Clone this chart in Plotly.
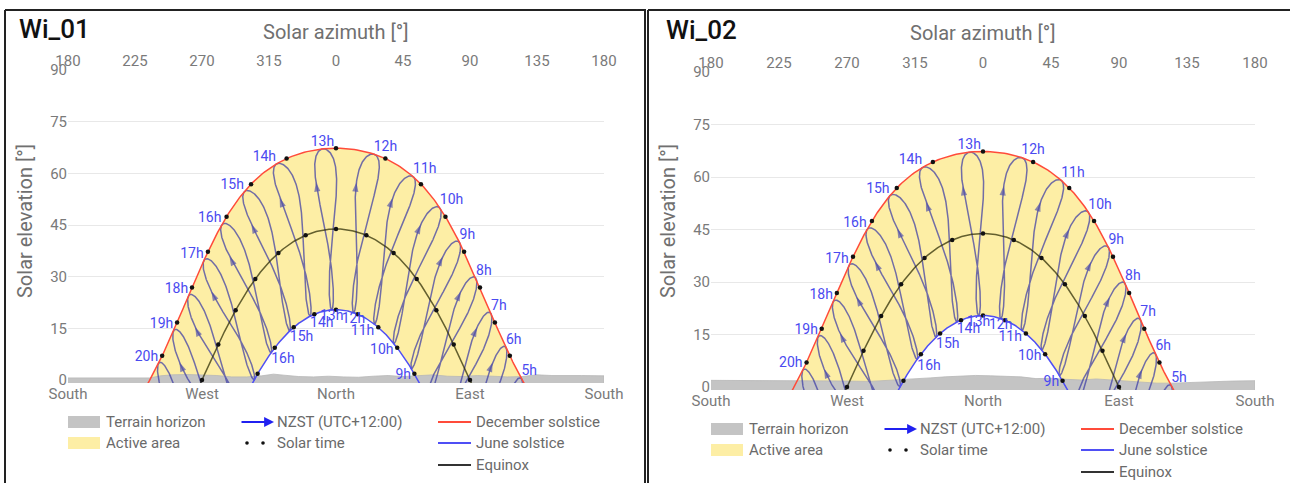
import numpy as np
import plotly.graph_objects as go

W, H = 1290, 483

# ---- site / time zone -------------------------------------------------------
SITE_LAT = -46.14          # degrees (south negative)
SITE_LON = 168.33          # degrees east
ZONE_MERIDIAN = 180.0      # NZST, UTC+12:00
PANEL_NAMES = ["Wi_01", "Wi_02"]

CLOCK_HOURS = list(range(5, 21))          # NZST hour analemmas
JUNE_LABEL_HOURS = list(range(9, 17))     # hours labelled on the June path
DEC_DAY, JUN_DAY, ARROW_DAY = 355, 172, 305
SOLSTICE_DECL = 23.44

# ---- axes -------------------------------------------------------------------
AZ_TICKS = [-180, -135, -90, -45, 0, 45, 90, 135, 180]
AZ_TOP_LABELS = ["180", "225", "270", "315", "0", "45", "90", "135", "180"]
COMPASS_TICKS = [-180, -90, 0, 90, 180]
COMPASS_LABELS = ["South", "West", "North", "East", "South"]
EL_TICKS = [0, 15, 30, 45, 60, 75, 90]

# ---- terrain horizon profiles (azimuth, elevation) --------------------------
TERRAIN_AZ_01 = [-180, -165, -150, -135, -125, -118, -110, -100, -90, -80, -70, -60,
                 -50, -42, -35, -25, -15, -5, 5, 15, 25, 35, 45, 55, 65, 75, 85, 95,
                 105, 115, 125, 135, 145, 155, 165, 180]
TERRAIN_EL_01 = [0.6, 0.6, 0.5, 0.5, 0.6, 1.2, 1.5, 1.6, 1.5, 1.3, 0.9, 0.9,
                 1.2, 1.7, 1.4, 1.0, 0.9, 1.1, 0.9, 0.8, 1.1, 1.3, 1.0, 1.2, 1.5, 1.1, 1.0, 1.3,
                 1.1, 0.9, 1.0, 1.5, 1.3, 1.2, 1.3, 1.2]
TERRAIN_AZ_02 = [-180, -165, -150, -135, -120, -105, -90, -75, -60, -45, -35, -25, -15,
                 -5, 5, 15, 25, 35, 45, 55, 65, 75, 85, 95, 105, 115, 125, 135, 150,
                 165, 180]
TERRAIN_EL_02 = [1.9, 1.9, 1.8, 1.8, 1.9, 1.8, 1.7, 1.6, 1.9, 2.3, 2.6, 2.9, 3.1,
                 3.3, 3.2, 3.0, 2.9, 2.4, 2.5, 2.2, 2.0, 2.3, 2.0, 1.8, 1.5, 1.1, 1.1, 1.3, 1.6,
                 1.7, 1.8]
TERRAINS = [(TERRAIN_AZ_01, TERRAIN_EL_01), (TERRAIN_AZ_02, TERRAIN_EL_02)]

# ---- panel geometry in pixels: plot left, right, top (90 deg), el=0 row
PANELS = [
    dict(left=68, right=604, top=70, zero=380, frame_x=5, title_x=17, title_y=29, ytitle_x=25),
    dict(left=711, right=1255, top=72, zero=387, frame_x=648, title_x=664, title_y=30, ytitle_x=668),
]

# ---- colours ----------------------------------------------------------------
C_ACTIVE = "#FDEEA5"
C_TERRAIN = "#C4C4C4"
C_DEC = "#FF4B3A"
C_JUN = "#4F4FF5"
C_EQX = "rgba(40,40,0,0.72)"
C_ANALEMMA = "rgba(60,60,165,0.72)"
C_HOUR = "#4A4AF0"
C_TEXT = "#7A7A7A"
FONT = "Roboto"


def px(x):
    return x / W


def py(y):
    return 1 - y / H


# ---- solar geometry -----------------------------------------------------------
def declination_eot(day):
    g = 2 * np.pi / 365.0 * (np.asarray(day, float) - 1)
    decl = (0.006918 - 0.399912 * np.cos(g) + 0.070257 * np.sin(g)
            - 0.006758 * np.cos(2 * g) + 0.000907 * np.sin(2 * g)
            - 0.002697 * np.cos(3 * g) + 0.00148 * np.sin(3 * g))
    eot = 229.18 * (0.000075 + 0.001868 * np.cos(g) - 0.032077 * np.sin(g)
                    - 0.014615 * np.cos(2 * g) - 0.040849 * np.sin(2 * g))
    return np.degrees(decl), eot


def sun_position(decl_deg, hour_angle_deg):
    phi = np.radians(SITE_LAT)
    d = np.radians(decl_deg)
    h = np.radians(hour_angle_deg)
    sin_el = np.sin(phi) * np.sin(d) + np.cos(phi) * np.cos(d) * np.cos(h)
    el = np.degrees(np.arcsin(np.clip(sin_el, -1, 1)))
    az = np.degrees(np.arctan2(-np.cos(d) * np.sin(h),
                               np.sin(d) * np.cos(phi) - np.cos(d) * np.sin(phi) * np.cos(h)))
    return az, el


def clock_position(day, clock_hour):
    decl, eot = declination_eot(day)
    solar = clock_hour + (SITE_LON - ZONE_MERIDIAN) / 15.0 + eot / 60.0
    return sun_position(decl, 15.0 * (solar - 12.0))


def day_path(decl, pad=3.0):
    cos_h0 = -np.tan(np.radians(SITE_LAT)) * np.tan(np.radians(decl))
    h0 = np.degrees(np.arccos(np.clip(cos_h0, -1, 1)))
    ha = np.linspace(-h0 - pad, h0 + pad, 300)
    return sun_position(decl, ha), h0


fig = go.Figure()
shapes, annotations = [], []

for i, (name, geo, (t_az, t_el)) in enumerate(zip(PANEL_NAMES, PANELS, TERRAINS)):
    xa = "x" if i == 0 else "x2"
    ya = "y" if i == 0 else "y2"
    top_ax = "x3" if i == 0 else "x4"
    px_per_deg = (geo["zero"] - geo["top"]) / 90.0
    bottom_px = geo["zero"] + 3
    y_min = -(bottom_px - geo["zero"]) / px_per_deg

    # active area between the December and June paths
    (dec_az, dec_el), h_dec = day_path(-SOLSTICE_DECL, pad=0)
    (jun_az, jun_el), h_jun = day_path(SOLSTICE_DECL, pad=0)
    poly_x = np.concatenate([dec_az, jun_az[::-1]])
    poly_y = np.concatenate([dec_el, jun_el[::-1]])
    fig.add_trace(go.Scatter(x=poly_x, y=poly_y, fill="toself", fillcolor=C_ACTIVE,
                             line=dict(width=0), mode="lines", hoverinfo="skip",
                             showlegend=False, xaxis=xa, yaxis=ya))

    # terrain horizon
    tx = list(t_az) + [t_az[-1], t_az[0]]
    ty = list(t_el) + [-5, -5]
    fig.add_trace(go.Scatter(x=tx, y=ty, fill="toself", fillcolor=C_TERRAIN,
                             line=dict(width=0.8, color="#B8B8B8"), mode="lines",
                             hoverinfo="skip", showlegend=False, xaxis=xa, yaxis=ya))

    # hour analemmas (clock time through the year)
    days = np.append(np.arange(1, 366, 1.0), 1.0)
    for hr in CLOCK_HOURS:
        az, el = clock_position(days, hr)
        fig.add_trace(go.Scatter(x=az, y=el, mode="lines",
                                 line=dict(color=C_ANALEMMA, width=1.5),
                                 hoverinfo="skip", showlegend=False, xaxis=xa, yaxis=ya))

    # day paths
    for decl, color in [(0.0, C_EQX), (SOLSTICE_DECL, C_JUN), (-SOLSTICE_DECL, C_DEC)]:
        (az, el), _ = day_path(decl)
        fig.add_trace(go.Scatter(x=az, y=el, mode="lines", line=dict(color=color, width=1.5),
                                 hoverinfo="skip", showlegend=False, xaxis=xa, yaxis=ya))

    # solar-time hour dots on the three day paths
    solar_hours = np.arange(0, 24)
    for decl in [0.0, SOLSTICE_DECL, -SOLSTICE_DECL]:
        az, el = sun_position(decl, 15.0 * (solar_hours - 12))
        keep = el > -0.3
        fig.add_trace(go.Scatter(x=az[keep], y=np.maximum(el[keep], 0), mode="markers",
                                 marker=dict(color="#111111", size=4.5),
                                 cliponaxis=False, hoverinfo="skip", showlegend=False,
                                 xaxis=xa, yaxis=ya))

    # direction arrows on each analemma
    for hr in CLOCK_HOURS:
        az, el = clock_position(np.array([ARROW_DAY - 3, ARROW_DAY]), hr)
        if el[1] < 2:
            continue
        fig.add_trace(go.Scatter(x=az, y=el, mode="markers",
                                 marker=dict(symbol="arrow", size=[0, 10], angleref="previous",
                                             color="rgba(80,80,170,0.95)", line=dict(width=0)),
                                 hoverinfo="skip", showlegend=False, xaxis=xa, yaxis=ya))

    # hour labels on the December path
    lx, ly, lt, lp = [], [], [], []
    for hr in CLOCK_HOURS:
        az, el = clock_position(DEC_DAY, hr)
        if el < -0.5:
            continue
        lx.append(float(az)); ly.append(float(max(el, 0))); lt.append(f"{hr}h")
        lp.append("top center" if abs(az) <= 15 else ("top left" if az < 0 else "top right"))
    fig.add_trace(go.Scatter(x=lx, y=ly, text=lt, mode="text", textposition=lp,
                             textfont=dict(family=FONT, size=14, color=C_HOUR),
                             cliponaxis=False, hoverinfo="skip", showlegend=False,
                             xaxis=xa, yaxis=ya))

    # hour labels on the June path
    lx, ly, lt, lp = [], [], [], []
    for hr in JUNE_LABEL_HOURS:
        az, el = clock_position(JUN_DAY, hr)
        lx.append(float(az)); ly.append(float(max(el, 0))); lt.append(f"{hr}h")
        lp.append("bottom center" if abs(az) <= 15 else ("bottom right" if az < 0 else "bottom left"))
    fig.add_trace(go.Scatter(x=lx, y=ly, text=lt, mode="text", textposition=lp,
                             textfont=dict(family=FONT, size=14, color=C_HOUR),
                             cliponaxis=False, hoverinfo="skip", showlegend=False,
                             xaxis=xa, yaxis=ya))

    # empty trace so the top azimuth axis is drawn
    fig.add_trace(go.Scatter(x=[None], y=[None], xaxis=top_ax, yaxis=ya, showlegend=False))

    dom_x = [px(geo["left"]), px(geo["right"])]
    dom_y = [py(bottom_px), py(geo["top"])]
    tick_font = dict(family=FONT, size=15, color=C_TEXT)
    sfx = "" if i == 0 else "2"
    fig.update_layout(**{
        f"xaxis{sfx}": dict(domain=dom_x, range=[-180, 180], tickvals=COMPASS_TICKS,
                            ticktext=COMPASS_LABELS, showgrid=False, zeroline=False,
                            showline=False, tickfont=tick_font, anchor=ya, fixedrange=True,
                            automargin=False),
        f"yaxis{sfx}": dict(domain=dom_y, range=[y_min, 90], tickvals=EL_TICKS,
                            showgrid=True, gridcolor="#E8E8E8", gridwidth=1, zeroline=False,
                            showline=False, tickfont=tick_font, anchor=xa, fixedrange=True,
                            automargin=False),
        ("xaxis3" if i == 0 else "xaxis4"): dict(overlaying=xa, side="top", anchor=ya,
                                                 range=[-180, 180], tickvals=AZ_TICKS,
                                                 ticktext=AZ_TOP_LABELS, showgrid=False,
                                                 zeroline=False, showline=False,
                                                 tickfont=tick_font, fixedrange=True,
                                                 automargin=False),
    })

    # panel frame
    fx = geo["frame_x"]
    shapes.append(dict(type="line", xref="paper", yref="paper", x0=px(fx), x1=px(fx),
                       y0=py(10), y1=py(H + 5), line=dict(color="#222", width=2)))
    shapes.append(dict(type="line", xref="paper", yref="paper", x0=px(fx), x1=px(fx + 641 if i == 0 else W + 5),
                       y0=py(10), y1=py(10), line=dict(color="#222", width=2)))
    if i == 0:
        shapes.append(dict(type="line", xref="paper", yref="paper", x0=px(645), x1=px(645),
                           y0=py(10), y1=py(H + 5), line=dict(color="#222", width=2)))

    # titles
    annotations.append(dict(text=name, x=px(geo["title_x"]), y=py(geo["title_y"]),
                            xref="paper", yref="paper", xanchor="left", yanchor="middle",
                            showarrow=False,
                            font=dict(family=FONT, size=26, color="#111", weight=500)))
    cx = (geo["left"] + geo["right"]) / 2
    annotations.append(dict(text="Solar azimuth [°]", x=px(cx), y=py(geo["title_y"] + 3),
                            xref="paper", yref="paper", xanchor="center", yanchor="middle",
                            showarrow=False, font=dict(family=FONT, size=20, color="#707070")))
    annotations.append(dict(text="Solar elevation [°]", x=px(geo["ytitle_x"]), y=py(221),
                            xref="paper", yref="paper", xanchor="center", yanchor="middle",
                            textangle=-90, showarrow=False,
                            font=dict(family=FONT, size=20, color="#707070")))

    # legend
    L = geo["left"]
    r1, r2, r3 = geo["zero"] + 42, geo["zero"] + 63, geo["zero"] + 85
    leg_font = dict(family=FONT, size=15, color="#6A6A6A")

    def leg_text(txt, x, y):
        annotations.append(dict(text=txt, x=px(x), y=py(y), xref="paper", yref="paper",
                                xanchor="left", yanchor="middle", showarrow=False, font=leg_font))

    shapes.append(dict(type="rect", xref="paper", yref="paper", x0=px(L), x1=px(L + 32),
                       y0=py(r1 + 6), y1=py(r1 - 6), fillcolor=C_TERRAIN, line=dict(width=0)))
    leg_text("Terrain horizon", L + 36, r1)
    shapes.append(dict(type="rect", xref="paper", yref="paper", x0=px(L), x1=px(L + 32),
                       y0=py(r2 + 6), y1=py(r2 - 6), fillcolor=C_ACTIVE, line=dict(width=0)))
    leg_text("Active area", L + 36, r2)

    c2 = L + 172
    annotations.append(dict(text="", x=px(c2 + 34), y=py(r1), ax=-34, ay=0,
                            xref="paper", yref="paper", axref="pixel", ayref="pixel",
                            showarrow=True, arrowhead=2, arrowsize=1.1, arrowwidth=1.8,
                            arrowcolor="#2020F0"))
    leg_text("NZST (UTC+12:00)", c2 + 35, r1)
    for dx in (7, 23):
        shapes.append(dict(type="circle", xref="paper", yref="paper",
                           x0=px(c2 + dx - 1.8), x1=px(c2 + dx + 1.8),
                           y0=py(r2 + 1.8), y1=py(r2 - 1.8), fillcolor="#111", line=dict(width=0)))
    leg_text("Solar time", c2 + 35, r2)

    c3 = L + 370
    for yy, col, txt in [(r1, C_DEC, "December solstice"), (r2, C_JUN, "June solstice"),
                         (r3, "#333333", "Equinox")]:
        shapes.append(dict(type="line", xref="paper", yref="paper", x0=px(c3), x1=px(c3 + 33),
                           y0=py(yy), y1=py(yy), line=dict(color=col, width=1.8)))
        leg_text(txt, c3 + 36, yy)

fig.update_layout(width=W, height=H, margin=dict(l=0, r=0, t=0, b=0, autoexpand=False),
                  paper_bgcolor="white", plot_bgcolor="white",
                  shapes=shapes, annotations=annotations, showlegend=False,
                  font=dict(family=FONT))

fig.write_html("out.html")
